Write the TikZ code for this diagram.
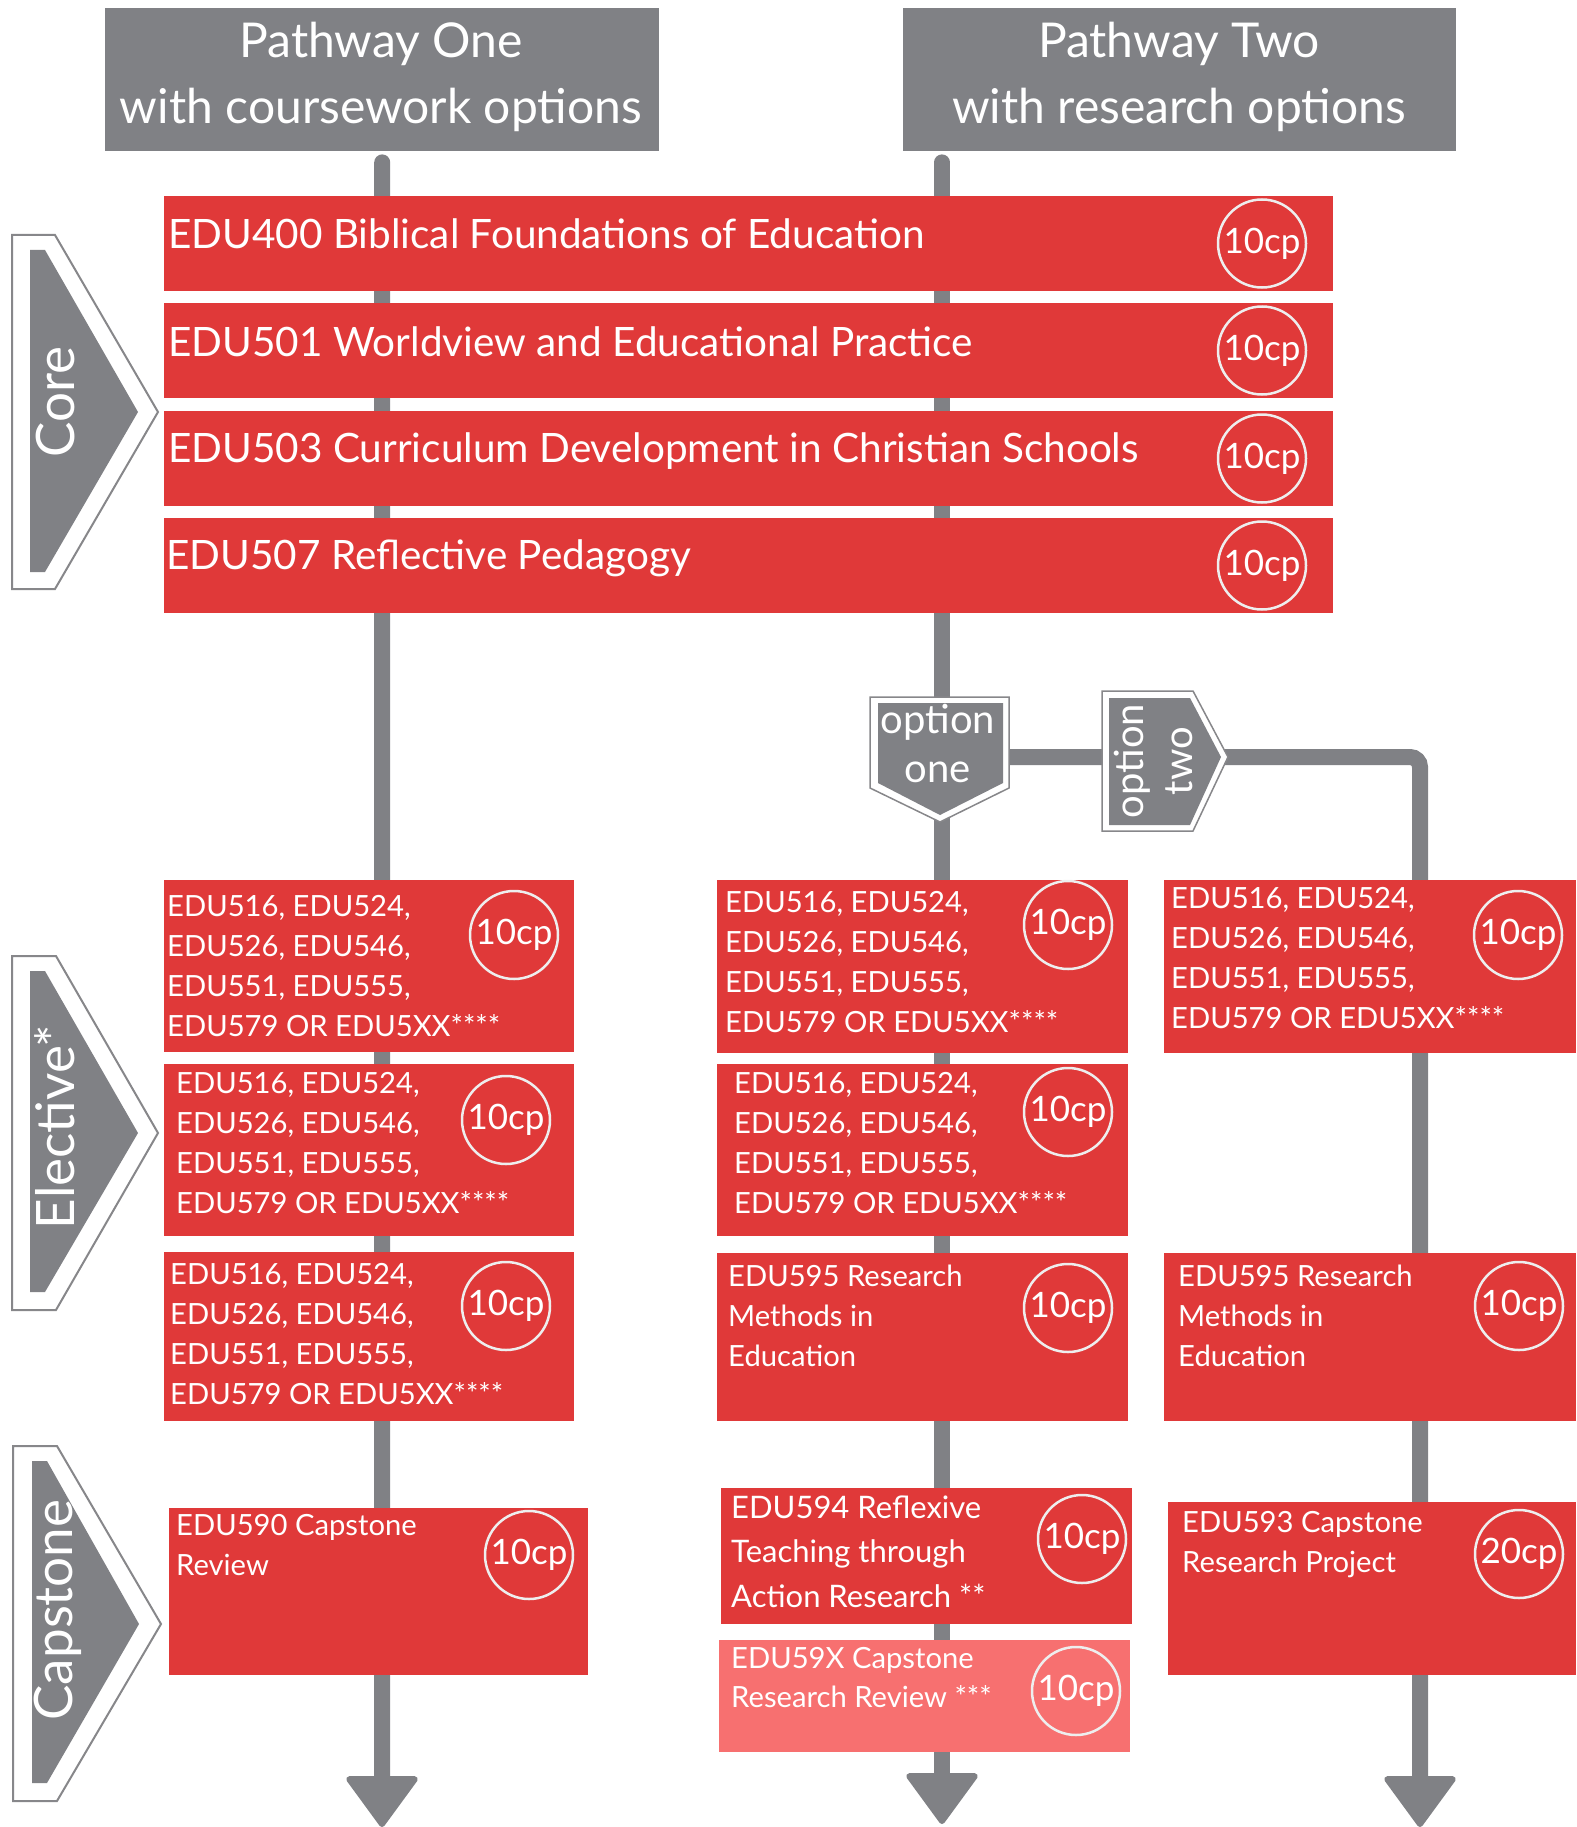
\documentclass[tikz,border=0pt]{standalone}
\usepackage{fontspec}
\setmainfont{Lato}
\usetikzlibrary{arrows.meta}
\definecolor{pgray}{RGB}{128,129,133}
\definecolor{pred}{RGB}{224,57,57}
\definecolor{ppink}{RGB}{247,112,112}
\definecolor{cring}{RGB}{238,238,238}
\definecolor{chevout}{RGB}{135,135,138}
\begin{document}
\begin{tikzpicture}[x=1pt,y=-1pt,
  hdr/.style={fill=pgray, draw=none, anchor=north west, inner sep=0pt, minimum height=143pt},
  hdrtext/.style={text=white, font=\fontsize{48}{66}\selectfont, align=center, anchor=base, inner sep=0pt},
  rbox/.style={fill=pred, draw=none, anchor=north west, inner sep=0pt},
  pbox/.style={fill=ppink, draw=none, anchor=north west, inner sep=0pt},
  coretext/.style={text=white, font=\fontsize{40.5}{48}\selectfont, anchor=base west, inner sep=0pt},
  eltext/.style={text=white, font=\fontsize{29.2}{40}\selectfont, align=left, anchor=base west, inner sep=0pt},
  cp/.style={circle, draw=cring, line width=2.5pt, minimum size=88pt, inner sep=0pt, text=white, font=\fontsize{35}{38}\selectfont},
  pl/.style={draw=pgray, line width=16pt},
  tip/.style={-{Triangle[width=76pt,length=53pt,line width=6pt,round]}},
  chevtext/.style={text=white, font=\fontsize{53}{60}\selectfont, rotate=90, anchor=base, inner sep=0pt},
  opttext/.style={text=white, font=\fontsize{40}{49}\selectfont, align=center, anchor=base, inner sep=0pt}
]
\useasboundingbox (0,0) rectangle (1576,1827);

% headers
\node[hdr, minimum width=554pt] (h1) at (105,8) {};
\node[hdr, minimum width=553pt] (h2) at (903,8) {};
\node[hdrtext] (h1t) at (381,124) {Pathway One\\with coursework options};
\node[hdrtext] (h2t) at (1179,124) {Pathway Two\\with research options};

% coordinates
\coordinate (a1) at (382,1827);
\coordinate (a2) at (942,1824);
\coordinate (a3) at (1420,1827);
\coordinate (br) at (942,757);

% connectors
\draw[pl, line cap=round, shorten <=11pt, tip] (h1.south) -- (a1);
\draw[pl, line cap=round, shorten <=11pt, tip] (h2.south -| a2) -- (a2);
\draw[pl, rounded corners=10pt, tip] (br) -| (a3);

% core boxes
\node[rbox, minimum width=1169pt, minimum height=95pt] (c1) at (164,196) {};
\node[rbox, minimum width=1169pt, minimum height=95pt] (c2) at (164,303) {};
\node[rbox, minimum width=1169pt, minimum height=95pt] (c3) at (164,411) {};
\node[rbox, minimum width=1169pt, minimum height=95pt] (c4) at (164,518) {};
\node[coretext] (c1t) at (168,249) {EDU400 Biblical Foundations of Education};
\node[coretext] (c2t) at (168,356) {EDU501 Worldview and Educational Practice};
\node[coretext] (c3t) at (168,462) {EDU503 Curriculum Development in Christian Schools};
\node[coretext] (c4t) at (166,569) {EDU507 Reflective Pedagogy};
\node[cp] (c1c) at (1262,243.5) {10cp};
\node[cp] (c2c) at (1262,350.5) {10cp};
\node[cp] (c3c) at (1262,458.5) {10cp};
\node[cp] (c4c) at (1262,565.5) {10cp};

% elective boxes
\node[rbox, minimum width=410pt, minimum height=172pt] (e11) at (164,880) {};
\node[rbox, minimum width=410pt, minimum height=172pt] (e12) at (164,1064) {};
\node[rbox, minimum width=410pt, minimum height=169pt] (e13) at (164,1252) {};
\node[rbox, minimum width=411pt, minimum height=173pt] (e21) at (717,880) {};
\node[rbox, minimum width=411pt, minimum height=172pt] (e22) at (717,1064) {};
\node[rbox, minimum width=411pt, minimum height=168pt] (e23) at (717,1253) {};
\node[rbox, minimum width=412pt, minimum height=173pt] (e31) at (1164,880) {};
\node[rbox, minimum width=412pt, minimum height=168pt] (e33) at (1164,1253) {};

% (multi-line nodes: anchor base = baseline of last line)
\node[eltext] (e11t) at (167,1036) {EDU516, EDU524,\\EDU526, EDU546,\\EDU551, EDU555,\\EDU579 OR EDU5XX****};
\node[eltext] (e12t) at (176,1213) {EDU516, EDU524,\\EDU526, EDU546,\\EDU551, EDU555,\\EDU579 OR EDU5XX****};
\node[eltext] (e13t) at (170,1404) {EDU516, EDU524,\\EDU526, EDU546,\\EDU551, EDU555,\\EDU579 OR EDU5XX****};
\node[eltext] (e21t) at (725,1032) {EDU516, EDU524,\\EDU526, EDU546,\\EDU551, EDU555,\\EDU579 OR EDU5XX****};
\node[eltext] (e22t) at (734,1213) {EDU516, EDU524,\\EDU526, EDU546,\\EDU551, EDU555,\\EDU579 OR EDU5XX****};
\node[eltext] (e23t) at (728,1366) {EDU595 Research\\Methods in\\Education};
\node[eltext] (e31t) at (1171,1028) {EDU516, EDU524,\\EDU526, EDU546,\\EDU551, EDU555,\\EDU579 OR EDU5XX****};
\node[eltext] (e33t) at (1178,1366) {EDU595 Research\\Methods in\\Education};

\node[cp] (e11c) at (514,935) {10cp};
\node[cp] (e12c) at (506,1120) {10cp};
\node[cp] (e13c) at (506,1306) {10cp};
\node[cp] (e21c) at (1068,925) {10cp};
\node[cp] (e22c) at (1068,1112) {10cp};
\node[cp] (e23c) at (1068,1308) {10cp};
\node[cp] (e31c) at (1518,935) {10cp};
\node[cp] (e33c) at (1519,1306) {10cp};

% capstone boxes
\node[rbox, minimum width=419pt, minimum height=167pt] (k1) at (169,1508) {};
\node[rbox, minimum width=411pt, minimum height=136pt] (k2) at (721,1488) {};
\node[pbox, minimum width=411pt, minimum height=112pt] (k3) at (719,1640) {};
\node[rbox, minimum width=408pt, minimum height=173pt] (k4) at (1168,1502) {};

\node[eltext] (k1t) at (176,1575) {EDU590 Capstone\\Review};
\node[eltext, font=\fontsize{31}{44.5}\selectfont] (k2t) at (731,1607) {EDU594 Reflexive\\Teaching through\\Action Research **};
\node[eltext, font=\fontsize{29.2}{39}\selectfont] (k3t) at (731,1707) {EDU59X Capstone\\Research Review ***};
\node[eltext] (k4t) at (1182,1572) {EDU593 Capstone\\Research Project};

\node[cp] (k1c) at (529,1555) {10cp};
\node[cp] (k2c) at (1082,1539) {10cp};
\node[cp] (k3c) at (1076,1691) {10cp};
\node[cp] (k4c) at (1519,1554) {20cp};

% option badges
\filldraw[fill=white, draw=chevout, line width=1.5pt] (870,697) -- (1009,697) -- (1009,788) -- (940,822) -- (870,788) -- cycle;
\fill[pgray] (878,703) -- (1003,703) -- (1003,783) -- (940,815) -- (878,783) -- cycle;
\node[opttext] (o1t) at (938,782) {option\\one};

\filldraw[fill=white, draw=chevout, line width=1.5pt] (1102,691) -- (1193,691) -- (1228,757) -- (1193,831) -- (1102,831) -- cycle;
\fill[pgray] (1109,698) -- (1190,698) -- (1221,757) -- (1190,825) -- (1109,825) -- cycle;
\node[opttext, rotate=90] (o2t) at (1192,761) {option\\two};

% side chevrons
\filldraw[fill=white, draw=chevout, line width=2pt] (12,235) -- (55,235) -- (158,412) -- (55,589) -- (12,589) -- cycle;
\fill[pgray] (30,250) -- (45,250) -- (138,412) -- (45,572) -- (30,572) -- cycle;
\node[chevtext] (s1) at (74,402) {Core};

\filldraw[fill=white, draw=chevout, line width=2pt] (12,956) -- (56,956) -- (158,1133) -- (56,1310) -- (12,1310) -- cycle;
\fill[pgray] (30,971) -- (45,971) -- (138,1133) -- (45,1292) -- (30,1292) -- cycle;
\node[chevtext] (s2) at (74,1127) {Elective*};

\filldraw[fill=white, draw=chevout, line width=2pt] (13,1446) -- (57,1446) -- (161,1624) -- (57,1801) -- (13,1801) -- cycle;
\fill[pgray] (32,1461) -- (47,1461) -- (139,1624) -- (47,1783) -- (32,1783) -- cycle;
\node[chevtext] (s3) at (72,1610) {Capstone};
\end{tikzpicture}
\end{document}
